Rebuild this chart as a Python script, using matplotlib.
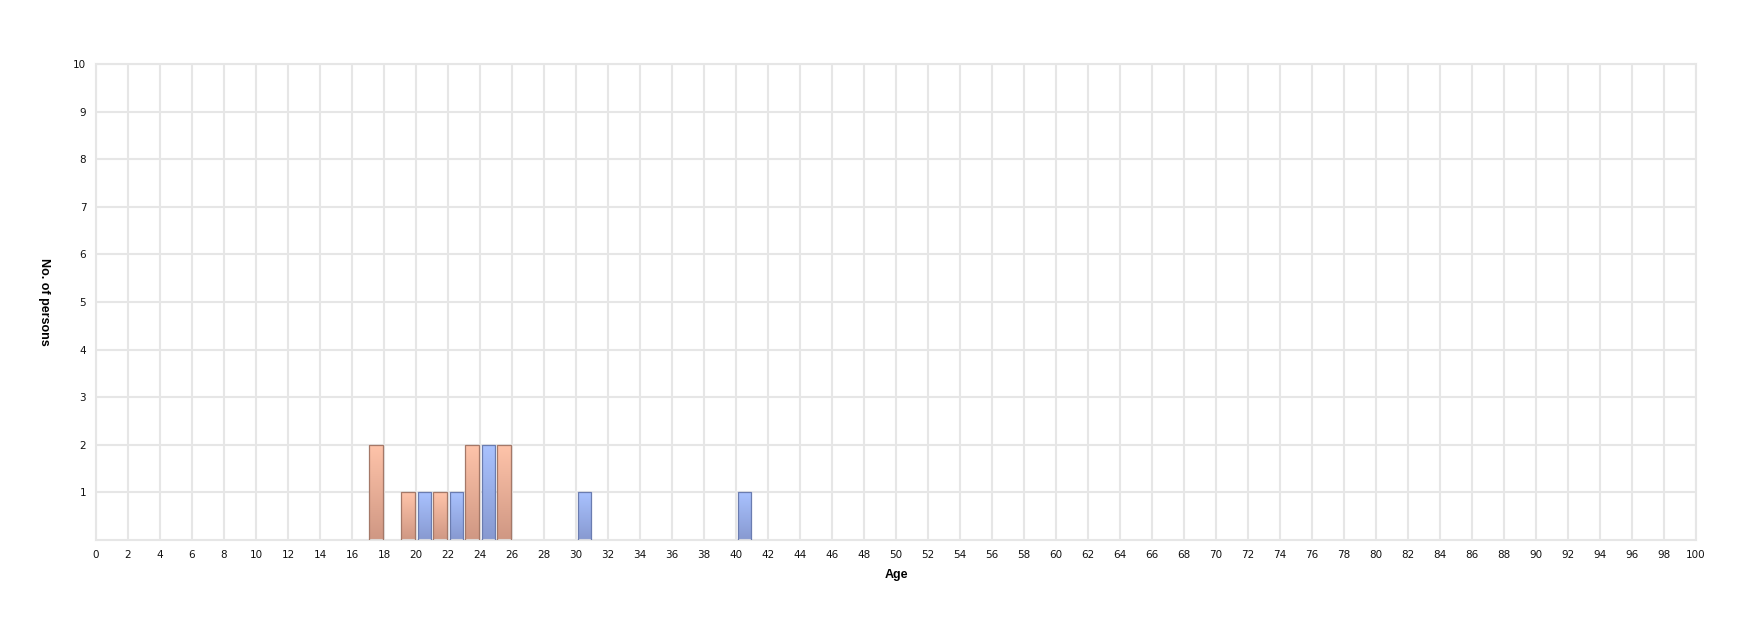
import matplotlib
matplotlib.use('Agg')
import matplotlib.pyplot as plt
import numpy as np
from matplotlib.colors import LinearSegmentedColormap

# ages and counts per group
ages_a = [17, 19, 21, 23, 25]
counts_a = [2, 1, 1, 2, 2]
ages_b = [20, 22, 24, 30, 40]
counts_b = [1, 1, 2, 1, 1]

x_ticks = list(range(0, 101, 2))
y_ticks = list(range(1, 11))

plt.rcParams['font.family'] = ['Liberation Sans', 'DejaVu Sans']

fig = plt.figure(figsize=(17.6, 6.28), dpi=100)
ax = fig.add_axes([96 / 1760, 88 / 628, 1600 / 1760, 476 / 628])

ax.set_xlim(0, 100)
ax.set_ylim(0, 10)
ax.set_xticks(x_ticks)
ax.set_yticks(y_ticks)
ax.tick_params(length=0, labelsize=7.5, pad=7, colors='#111111')
for lbl in ax.get_xticklabels() + ax.get_yticklabels():
    lbl.set_family('DejaVu Sans')
ax.grid(True, color='#e6e6e6', linewidth=1.5)
ax.set_axisbelow(True)
for s in ax.spines.values():
    s.set_color('#e6e6e6')
    s.set_linewidth(1.5)

ax.set_xlabel('Age', fontsize=9, fontweight='bold', labelpad=7)
ax.set_ylabel('No. of persons', fontsize=9, fontweight='bold', rotation=-90,
              labelpad=0)
ax.yaxis.set_label_coords(-0.036, 0.5)

cm_a = LinearSegmentedColormap.from_list('a', ['#cf9783', '#ffc4aa'])
cm_b = LinearSegmentedColormap.from_list('b', ['#8799d0', '#a9c2ff'])
grad = np.linspace(0, 1, 256).reshape(-1, 1)


def gradient_bars(ages, counts, cmap, edge, shift):
    bars = ax.bar([a + 0.5 + shift for a in ages], counts, width=0.82,
                  color='none', edgecolor=edge, linewidth=0.9, zorder=3)
    for b in bars:
        x0, y0 = b.get_x(), b.get_y()
        w, h = b.get_width(), b.get_height()
        im = ax.imshow(grad, cmap=cmap, aspect='auto', origin='lower',
                       extent=[x0, x0 + w, y0, y0 + h], zorder=2)
        im.set_clip_path(b)


gradient_bars(ages_a, counts_a, cm_a, '#a47868', 0.0)
gradient_bars(ages_b, counts_b, cm_b, '#6a7cb0', 0.05)

ax.set_xlim(0, 100)
ax.set_ylim(0, 10)

fig.savefig('out.png', dpi=100)
